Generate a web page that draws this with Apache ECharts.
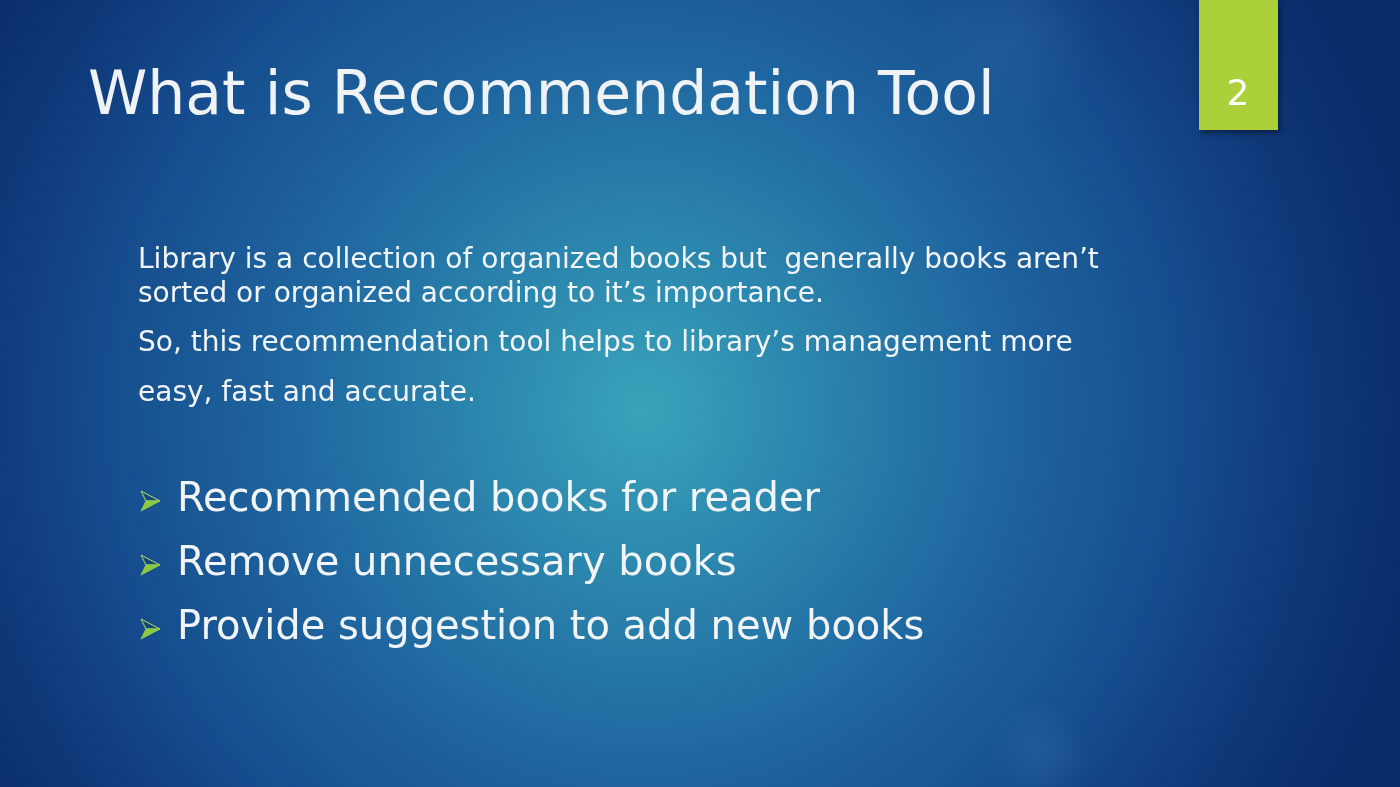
<!DOCTYPE html>
<html>
<head>
<meta charset="utf-8">
<script src="https://cdn.jsdelivr.net/npm/echarts@6/dist/echarts.min.js"></script>
<style>
html,body{margin:0;padding:0;width:1400px;height:787px;overflow:hidden;background:#0c2d6e;}
#main{width:1400px;height:787px;}
</style>
</head>
<body>
<div id="main"></div>
<script>
const titleText = 'What is Recommendation Tool';
const pageNumber = '2';
const bodyLines = [
  'Library is a collection of organized books but  generally books aren\u2019t',
  'sorted or organized according to it\u2019s importance.',
  'So, this recommendation tool helps to library\u2019s management more',
  'easy, fast and accurate.'
];
const bulletItems = [
  'Recommended books for reader',
  'Remove unnecessary books',
  'Provide suggestion to add new books'
];

const FONT = '"DejaVu Sans", "Noto Sans", sans-serif';
const bodyY = [261, 295, 344, 394];
const bulletY = [501, 565, 629];

const chart = echarts.init(document.getElementById('main'), null, {renderer: 'canvas'});

const elements = [];
// background
elements.push({
  type: 'rect', shape: {x: 0, y: 0, width: 1400, height: 787}, z: 0,
  style: {
    fill: new echarts.graphic.RadialGradient(0.46, 0.52, 1.0, [
      {offset: 0, color: '#3aa3bb'},
      {offset: 0.2, color: '#2c88ae'},
      {offset: 0.45, color: '#1f66a0'},
      {offset: 0.7, color: '#154b8c'},
      {offset: 0.85, color: '#0f3879'},
      {offset: 1, color: '#0a2b6a'}
    ])
  }
});
// faint glows
elements.push({
  type: 'circle', shape: {cx: 1040, cy: 750, r: 50}, z: 1,
  style: {fill: new echarts.graphic.RadialGradient(0.5, 0.5, 0.5, [
    {offset: 0, color: 'rgba(120,170,220,0.12)'},
    {offset: 1, color: 'rgba(120,170,220,0)'}
  ])}
});
elements.push({
  type: 'circle', shape: {cx: 1010, cy: 40, r: 90}, z: 1,
  style: {fill: new echarts.graphic.RadialGradient(0.5, 0.5, 0.5, [
    {offset: 0, color: 'rgba(120,170,220,0.10)'},
    {offset: 1, color: 'rgba(120,170,220,0)'}
  ])}
});
// page number box
elements.push({
  type: 'rect', shape: {x: 1199, y: 0, width: 79, height: 130}, z: 5,
  style: {fill: '#abd03a', shadowBlur: 6, shadowOffsetX: 2, shadowOffsetY: 3, shadowColor: 'rgba(0,0,0,0.45)'}
});
elements.push({
  type: 'text', x: 1238, y: 96, z: 6,
  style: {text: pageNumber, fill: '#ffffff', font: '36px ' + FONT, align: 'center', verticalAlign: 'middle'}
});
// title
elements.push({
  type: 'text', x: 88, y: 98, z: 6,
  style: {text: titleText, fill: '#f0f3f5', font: '60px ' + FONT, align: 'left', verticalAlign: 'middle'}
});
// body
bodyLines.forEach((t, i) => {
  elements.push({
    type: 'text', x: 138, y: bodyY[i], z: 6,
    style: {text: t, fill: '#f2f5f7', font: '28px ' + FONT, align: 'left', verticalAlign: 'middle'}
  });
});
// bullets
bulletItems.forEach((t, i) => {
  const y = bulletY[i];
  elements.push({
    type: 'polygon', z: 6,
    shape: {points: [[141, y - 10], [160, y], [146, y]]},
    style: {fill: 'rgba(20,70,110,0.6)', stroke: '#b8e060', lineWidth: 1}
  });
  elements.push({
    type: 'polygon', z: 6,
    shape: {points: [[146, y], [160, y], [141, y + 10]]},
    style: {fill: '#8ec83e', stroke: '#9cd048', lineWidth: 0.8}
  });
  elements.push({
    type: 'text', x: 177, y: y, z: 6,
    style: {text: t, fill: '#f2f5f7', font: '40px ' + FONT, align: 'left', verticalAlign: 'middle'}
  });
});

chart.setOption({
  animation: false,
  graphic: {elements: elements}
});
</script>
</body>
</html>
